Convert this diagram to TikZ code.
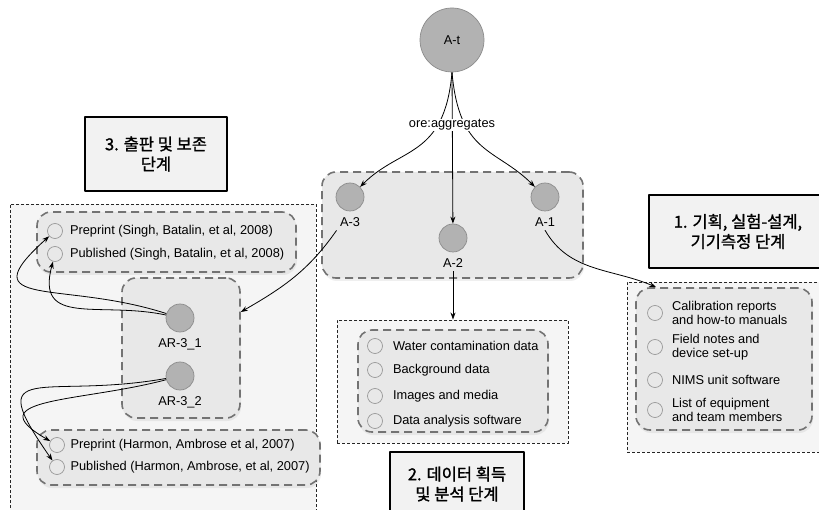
\documentclass[tikz,border=0pt]{standalone}
\usepackage{fontspec}
\setmainfont{Liberation Sans}
\newfontfamily\kor{Noto Sans CJK KR}[FakeBold=1.2]
\usetikzlibrary{positioning,arrows.meta,shadows}

\begin{document}
\begin{tikzpicture}[x=1pt,y=1pt,line join=round,
		font=\fontsize{12.8}{14}\selectfont,
		res/.style={circle,draw=black!45,fill=black!30,line width=.7pt,minimum size=28pt,inner sep=0pt},
		item/.style={circle,draw=black!40,line width=.7pt,minimum size=15pt,inner sep=0pt},
		grp/.style={rectangle,rounded corners=14pt,draw=black!55,line width=1.6pt,dash pattern=on 8pt off 5pt,
			fill=black!9,drop shadow={opacity=.12,shadow xshift=1pt,shadow yshift=-3pt},inner sep=0pt},
		phase/.style={rectangle,draw=black!85,line width=.9pt,dash pattern=on 3pt off 2pt,fill=black!4,inner sep=0pt},
		stage/.style={rectangle,draw,line width=1.2pt,fill=black!5,align=center,font=\kor\fontsize{16.5}{20}\selectfont},
		link/.style={-{Stealth[length=7pt,width=5pt]},line width=.8pt}]
	\clip (0,0) rectangle (819,-510);
	\fill[white] (0,0) rectangle (819,-510);
	
	%%%% khung giai doan
	\node[phase,minimum width=306pt,minimum height=312pt] (ph3) at (163,-360) {};
	\node[phase,minimum width=231pt,minimum height=123pt] (ph2) at (452.5,-381.5) {};
	\node[phase,minimum width=200pt,minimum height=170pt] (ph1) at (727,-367) {};
	
	%%%% nhom
	\node[grp,minimum width=261pt,minimum height=106pt] (grpA) at (452.5,-225) {};
	\node[grp,minimum width=190pt,minimum height=102pt] (grp2) at (453,-381) {};
	\node[grp,minimum width=176pt,minimum height=142pt] (grp1) at (724,-359) {};
	\node[grp,minimum width=259pt,minimum height=60pt] (grpS) at (166.5,-242) {};
	\node[grp,minimum width=118pt,minimum height=140pt] (grpAR) at (181,-348) {};
	\node[grp,minimum width=283pt,minimum height=55pt] (grpH) at (178.5,-457.5) {};
	
	%%%% tai nguyen
	\node[res,minimum size=64pt] (At) at (452,-40) {A-t};
	\node[res] (A3) at (350,-197) {};
	\node[res] (A2) at (453,-238) {};
	\node[res] (A1) at (545,-197) {};
	\node[res] (AR1) at (180,-318) {};
	\node[res] (AR2) at (180,-376) {};
	\node[below=3pt of A3] (A3l) {A-3};
	\node[below=3pt of A2] (A2l) {A-2};
	\node[below=3pt of A1] (A1l) {A-1};
	\node[below=3pt of AR1] (AR1l) {AR-3\_1};
	\node[below=3pt of AR2] (AR2l) {AR-3\_2};
	
	%%%% muc du lieu
	\foreach \y/\t [count=\i] in {346/Water contamination data,370/Background data,396/Images and media,421/Data analysis software}{
		\node[item] (d\i) at (375,-\y) {};
		\node[right=10pt of d\i,inner sep=0pt] (dt\i) {\t};
	}
	\foreach \y/\t [count=\i] in {313/{Calibration reports\\and how-to manuals},347/{Field notes and\\device set-up},380/{NIMS unit software},410/{List of equipment\\and team members}}{
		\node[item] (c\i) at (655,-\y) {};
		\node[right=9pt of c\i,inner sep=0pt,align=left,font=\fontsize{12.8}{13.5}\selectfont] (ct\i) {\t};
	}
	\node[item] (s1) at (55,-231) {};
	\node[right=7pt of s1,inner sep=0pt] (st1t) {Preprint (Singh, Batalin, et al, 2008)};
	\node[item] (s2) at (55,-254) {};
	\node[right=7pt of s2,inner sep=0pt] (st2t) {Published (Singh, Batalin, et al, 2008)};
	\node[item] (h1) at (57,-445) {};
	\node[right=5.5pt of h1,inner sep=0pt] (ht1) {Preprint (Harmon, Ambrose et al, 2007)};
	\node[item] (h2) at (57,-467) {};
	\node[right=5.5pt of h2,inner sep=0pt] (ht2) {Published (Harmon, Ambrose, et al, 2007)};
	
	%%%% mui ten
	\draw[link] (At.south) to[out=-95,in=45,out looseness=1.5] (A3);
	\draw[link] (At.south) -- (A2);
	\draw[link] (At.south) to[out=-85,in=135,out looseness=1.5] (A1);
	\node[fill=white,inner sep=1pt] (agg) at (452,-125) {ore:aggregates};
	\draw[link] (A2l.south) -- (A2l.south |- ph2.north);
	\coordinate (t1) at ([xshift=21pt]grp1.north west);
	\draw[link] (A1l.south) to[out=-60,in=157] (t1);
	\coordinate (t3) at ([yshift=36pt]grpAR.east);
	\draw[link] (A3l.south west) to[out=-125,in=30] (t3);
	\draw[link] (AR1) to[out=162,in=222,looseness=2] (s1);
	\draw[link] (AR1) to[out=168,in=255,looseness=1.4] (s2);
	\draw[link] (AR2) to[out=195,in=150,looseness=1.7] (h1);
	\draw[link] (AR2) to[out=190,in=125,looseness=2.3] (h2);
	
	%%%% nhan giai doan
	\node[stage,minimum width=142pt,minimum height=74pt] (st3) at (156,-154) {3. 출판 및 보존\\단계};
	\node[stage,minimum width=134pt,minimum height=64pt] (st2) at (457,-484) {2. 데이터 획득\\및 분석 단계};
	\node[stage,minimum width=178pt,minimum height=73pt] (st1) at (738,-231.5) {1. 기획, 실험-설계,\\기기측정 단계};
\end{tikzpicture}
\end{document}
